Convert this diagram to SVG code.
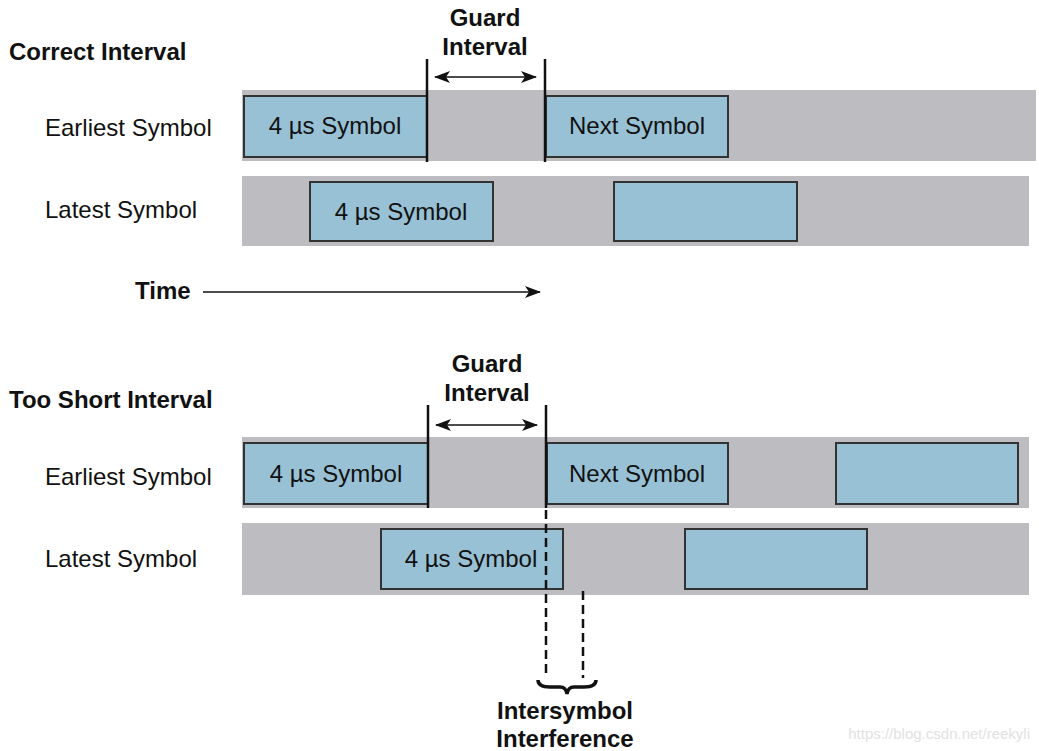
<svg xmlns="http://www.w3.org/2000/svg" width="1039" height="751" viewBox="0 0 1039 751">
<style>
.band{fill:#bdbcc1}
.sym{fill:#98c1d5;stroke:#333;stroke-width:2}
.t{font-family:"Liberation Sans",Arial,sans-serif;font-size:24px;fill:#111}
.b{font-family:"Liberation Sans",Arial,sans-serif;font-size:24px;font-weight:bold;fill:#111}
.c{text-anchor:middle}
.vl{stroke:#111;stroke-width:2.5}
.dash{stroke:#111;stroke-width:2.5;stroke-dasharray:9,5}
.arr{stroke:#111;stroke-width:1.5;fill:none}
</style>
<defs>
<marker id="ah" viewBox="0 0 16 12" refX="15" refY="6" markerWidth="16" markerHeight="12" markerUnits="userSpaceOnUse" orient="auto-start-reverse">
<path d="M0,0 L16,6 L0,12 L4,6 z" fill="#111"/>
</marker>
</defs>
<rect width="1039" height="751" fill="#fff"/>

<g id="correct-section">
<text class="b" x="9" y="60">Correct Interval</text>
<text class="t" x="45" y="136">Earliest Symbol</text>
<text class="t" x="45" y="218">Latest Symbol</text>
<rect class="band" x="242" y="90" width="794" height="71"/>
<rect class="band" x="242" y="176" width="787" height="70"/>
</g>
<g id="c-early-sym">
<rect class="sym" x="244" y="96" width="183" height="61"/>
<text class="t c" x="335" y="134">4 µs Symbol</text>
</g>
<g id="c-early-next">
<rect class="sym" x="546" y="96" width="182" height="61"/>
<text class="t c" x="637" y="134">Next Symbol</text>
</g>
<g id="c-late-sym">
<rect class="sym" x="310" y="182" width="183" height="59"/>
<text class="t c" x="401" y="220">4 µs Symbol</text>
</g>
<g id="c-late-next">
<rect class="sym" x="614" y="182" width="183" height="59"/>
</g>
<g id="c-guard">
<text class="b c" x="485" y="26">Guard</text>
<text class="b c" x="485" y="55">Interval</text>
<line class="vl" x1="427" y1="59" x2="427" y2="162"/>
<line class="vl" x1="545" y1="59" x2="545" y2="162"/>
</g>
<g id="time">
<text class="b" x="135" y="299">Time</text>
</g>

<g id="short-section">
<text class="b" x="9" y="408">Too Short Interval</text>
<text class="t" x="45" y="485">Earliest Symbol</text>
<text class="t" x="45" y="567">Latest Symbol</text>
<rect class="band" x="242" y="437" width="787" height="71"/>
<rect class="band" x="242" y="523" width="787" height="72"/>
</g>
<g id="s-early-sym">
<rect class="sym" x="244" y="443" width="184" height="61"/>
<text class="t c" x="336" y="482">4 µs Symbol</text>
</g>
<g id="s-early-next">
<rect class="sym" x="547" y="443" width="181" height="61"/>
<text class="t c" x="637" y="482">Next Symbol</text>
</g>
<g id="s-early-3">
<rect class="sym" x="836" y="443" width="182" height="61"/>
</g>
<g id="s-late-sym">
<rect class="sym" x="381" y="529" width="182" height="60"/>
<text class="t c" x="471" y="567">4 µs Symbol</text>
</g>
<g id="s-late-next">
<rect class="sym" x="685" y="529" width="182" height="60"/>
</g>
<g id="s-guard">
<text class="b c" x="487" y="372">Guard</text>
<text class="b c" x="487" y="401">Interval</text>
<line class="vl" x1="428" y1="405" x2="428" y2="508"/>
<line class="vl" x1="546" y1="405" x2="546" y2="508"/>
</g>
<g id="isi">
<text class="b c" x="565" y="719">Intersymbol</text>
<text class="b c" x="565" y="747">Interference</text>
</g>

<g id="connectors">
<line class="arr" x1="435" y1="77" x2="536" y2="77" marker-start="url(#ah)" marker-end="url(#ah)"/>
<line class="arr" x1="436" y1="425" x2="537" y2="425" marker-start="url(#ah)" marker-end="url(#ah)"/>
<line class="arr" x1="203" y1="292" x2="540" y2="292" marker-end="url(#ah)"/>
<line class="dash" x1="546" y1="510" x2="546" y2="678"/>
<line class="dash" x1="583" y1="591" x2="583" y2="678"/>
<path d="M538,680 Q538,687 550,687 L560,687 Q566,687 567,694 Q568,687 574,687 L584,687 Q596,687 596,680" fill="none" stroke="#111" stroke-width="3.5"/>
</g>

<text x="1030" y="739" text-anchor="end" font-family="Liberation Sans,Arial,sans-serif" font-size="15" fill="#e2e2e2">https://blog.csdn.net/reekyli</text>
</svg>
